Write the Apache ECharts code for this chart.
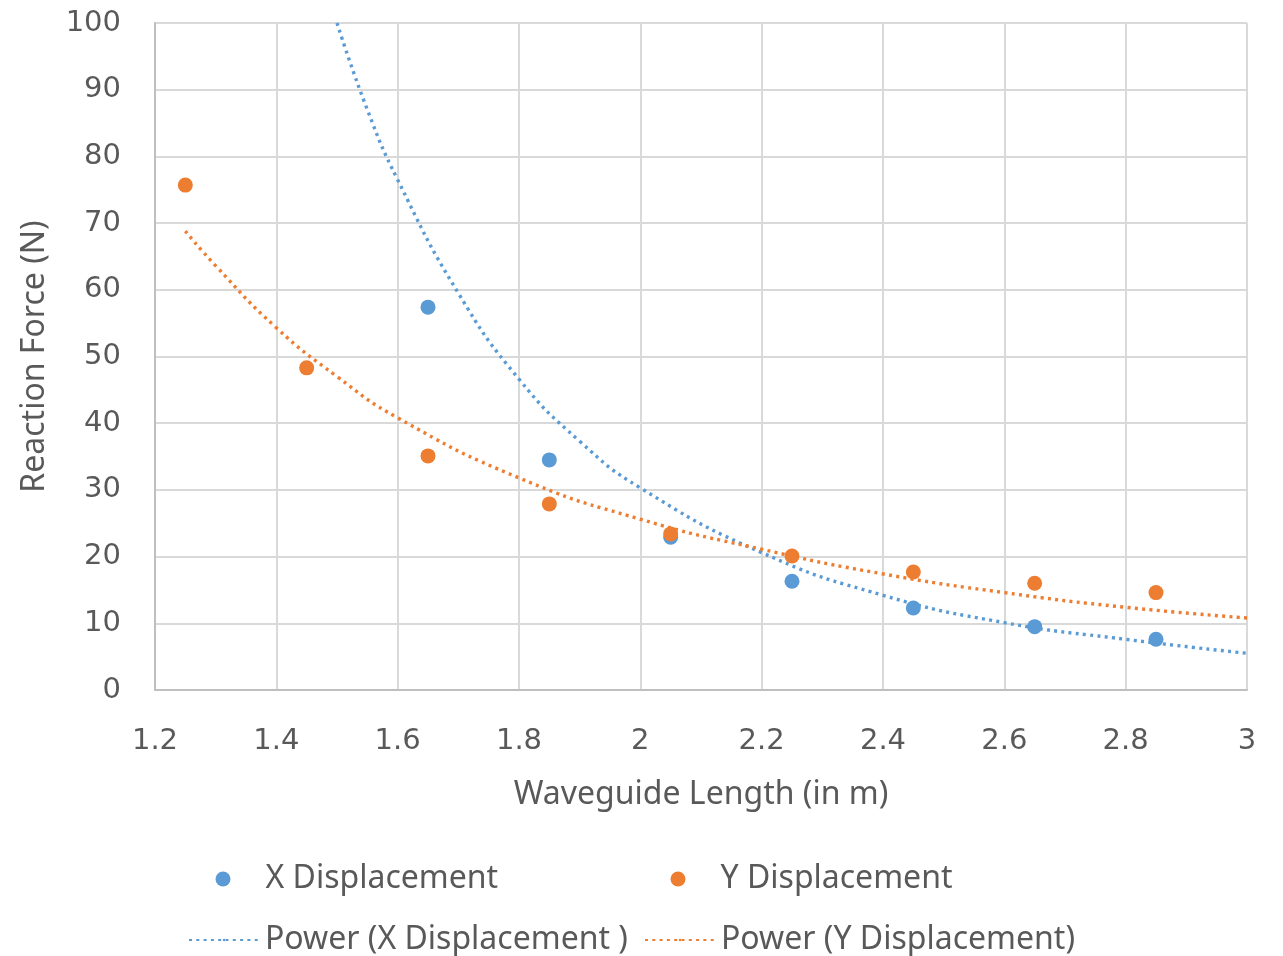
<!DOCTYPE html>
<html>
<head>
<meta charset="utf-8">
<script src="https://cdn.jsdelivr.net/npm/echarts@6/dist/echarts.min.js"></script>
<style>
  html, body { margin: 0; padding: 0; background: #fff; }
  #chart { width: 1283px; height: 956px; }
</style>
</head>
<body>
<div id="chart"></div>
<script>
// measured points
const lengths = [1.25, 1.45, 1.65, 1.85, 2.05, 2.25, 2.45, 2.65, 2.85];
const xDisp = [null, null, 57.4, 34.5, 22.9, 16.3, 12.3, 9.5, 7.6];
const yDisp = [75.7, 48.3, 35.1, 27.9, 23.4, 20.1, 17.7, 16.0, 14.6];

// trendlines as drawn in the picture
const xTrendX = [1.5, 1.55, 1.6, 1.7, 1.8, 1.9, 2.0, 2.2, 2.4, 2.6, 2.8, 3.0];
const xTrendY = [100, 87, 76.5, 59.5, 46.6, 37.3, 30.3, 20.6, 14.2, 10.1, 7.6, 5.5];
const yTrendX = [1.25, 1.3, 1.4, 1.5, 1.6, 1.8, 2.0, 2.2, 2.4, 2.6, 2.8, 3.0];
const yTrendY = [68.8, 63.6, 54.3, 47.0, 40.8, 31.8, 25.6, 21.1, 17.4, 14.6, 12.4, 10.8];

const BLUE = '#5B9BD5';
const ORANGE = '#ED7D31';
const TXT = '#595959';

function pairs(xs, ys) {
  let out = [];
  for (let i = 0; i < xs.length; i++) {
    if (ys[i] != null) out.push([xs[i], ys[i]]);
  }
  return out;
}

let myChart = echarts.init(document.getElementById('chart'));

const dotLine = (c) => ({ color: c, width: 3.4, type: [3, 4.3] });

// one legend per entry so each one sits where Excel put it
function oneLegend(name, left, top, isDot) {
  return {
    data: [isDot ? { name: name, icon: 'circle' } : name],
    left: left, top: top,
    padding: 0,
    itemWidth: isDot ? 15 : 70, itemHeight: isDot ? 15 : 3,
    selectedMode: false,
    textStyle: {
      color: TXT, fontSize: 32, fontFamily: 'Noto Sans',
      padding: [0, 0, 0, isDot ? 30 : 1]
    }
  };
}

let option = {
  animation: false,
  grid: { left: 155, right: 36, top: 23, bottom: 266 },
  legend: [
    oneLegend('X Displacement', 215.5, 863, true),
    oneLegend('Y Displacement', 670.5, 863, true),
    oneLegend('Power (X Displacement )', 188, 924),
    oneLegend('Power (Y Displacement)', 644, 924)
  ],
  xAxis: {
    type: 'value',
    min: 1.2, max: 3, interval: 0.2,
    name: 'Waveguide Length (in m)',
    nameLocation: 'middle', nameGap: 89,
    nameTextStyle: { color: TXT, fontSize: 32, fontFamily: 'Noto Sans' },
    axisLine: { show: true, lineStyle: { color: '#bfbfbf', width: 2 } },
    axisTick: { show: false },
    axisLabel: {
      color: TXT, fontSize: 29, fontFamily: 'DejaVu Sans', margin: 37,
      formatter: v => String(+v.toFixed(1))
    },
    splitLine: { show: true, lineStyle: { color: '#d9d9d9', width: 2 } }
  },
  yAxis: {
    type: 'value',
    min: 0, max: 100, interval: 10,
    name: 'Reaction Force (N)',
    nameLocation: 'middle', nameGap: 104, nameRotate: 90,
    nameTextStyle: { color: TXT, fontSize: 32, fontFamily: 'Noto Sans' },
    axisLine: { show: true, lineStyle: { color: '#bfbfbf', width: 2 } },
    axisTick: { show: false },
    axisLabel: { color: TXT, fontSize: 29, fontFamily: 'DejaVu Sans', margin: 34, padding: [6, 0, 0, 0] },
    splitLine: { show: true, lineStyle: { color: '#d9d9d9', width: 2 } }
  },
  series: [
    {
      name: 'Power (X Displacement )',
      type: 'line', smooth: true, showSymbol: false, symbol: 'none',
      data: pairs(xTrendX, xTrendY),
      lineStyle: dotLine(BLUE), itemStyle: { color: BLUE }, z: 2
    },
    {
      name: 'Power (Y Displacement)',
      type: 'line', smooth: true, showSymbol: false, symbol: 'none',
      data: pairs(yTrendX, yTrendY),
      lineStyle: dotLine(ORANGE), itemStyle: { color: ORANGE }, z: 2
    },
    {
      name: 'X Displacement',
      type: 'scatter', symbolSize: 15,
      data: pairs(lengths, xDisp),
      itemStyle: { color: BLUE, opacity: 1 }, z: 3
    },
    {
      name: 'Y Displacement',
      type: 'scatter', symbolSize: 15,
      data: pairs(lengths, yDisp),
      itemStyle: { color: ORANGE, opacity: 1 }, z: 4
    }
  ]
};

option && myChart.setOption(option);
</script>
</body>
</html>
